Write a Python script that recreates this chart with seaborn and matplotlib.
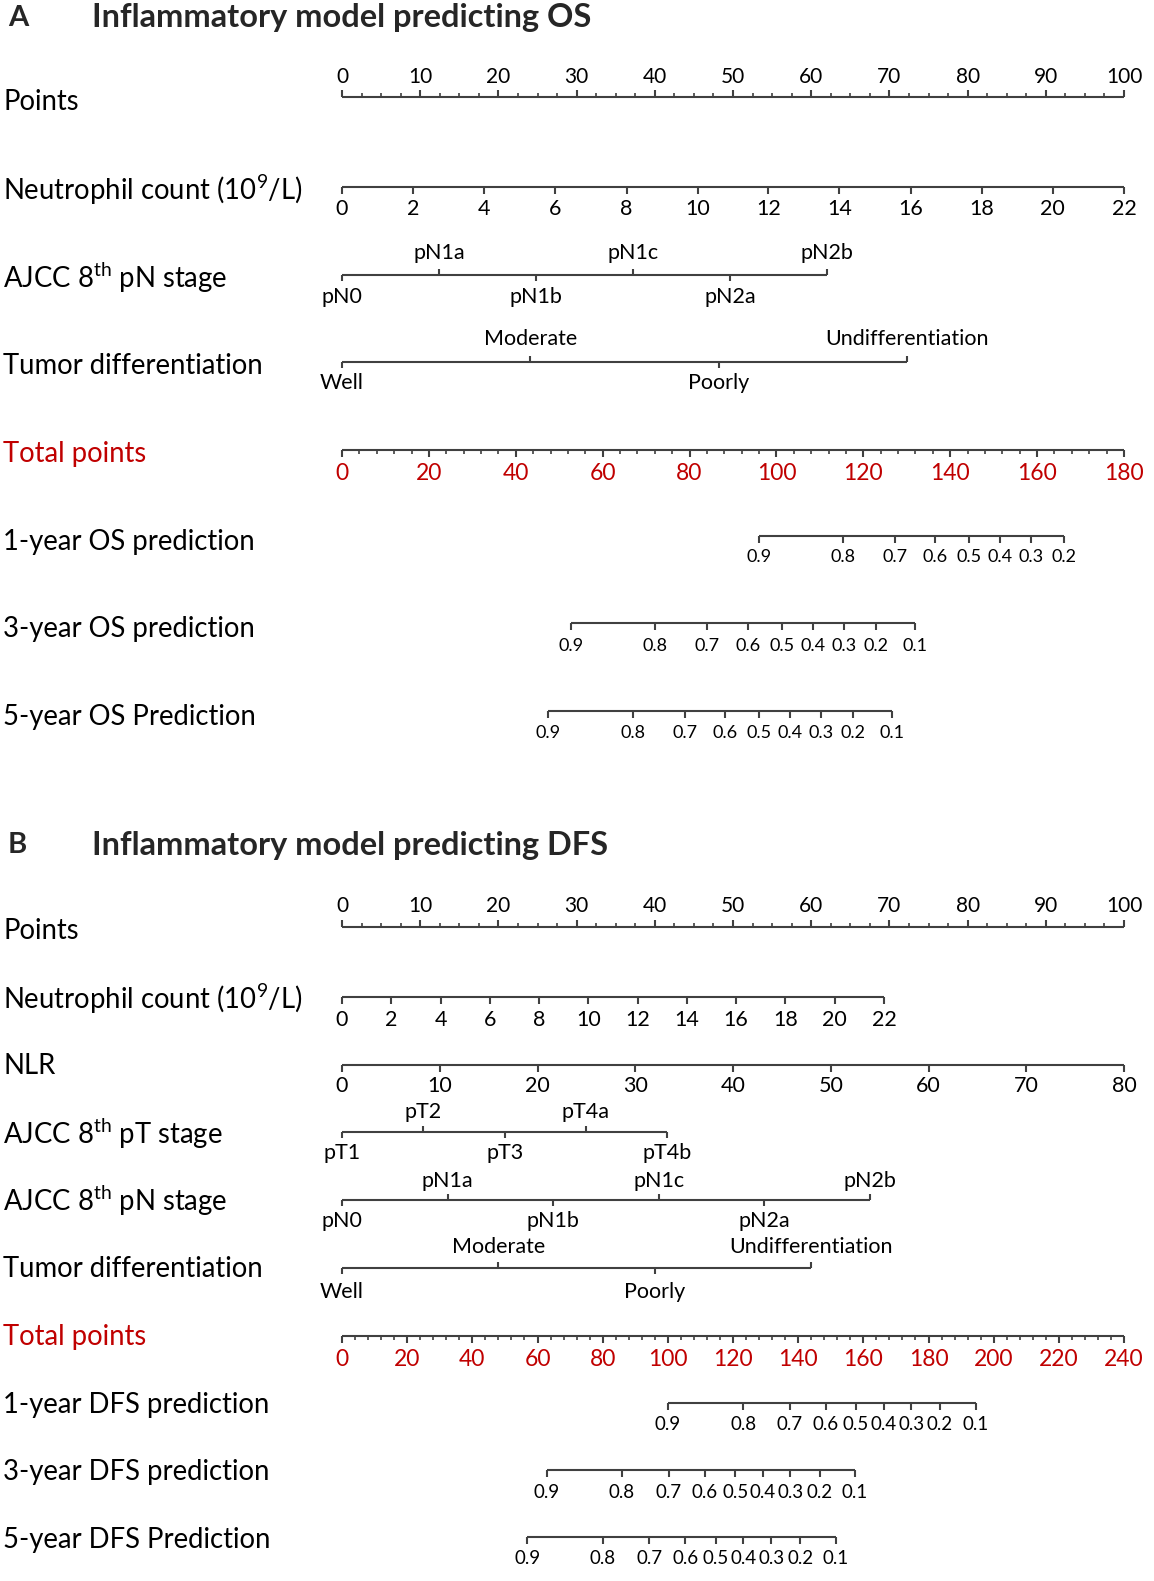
import numpy as np
import matplotlib
matplotlib.use("Agg")
import matplotlib.pyplot as plt
import matplotlib.transforms as mtransforms
import seaborn as sns

# ---------------- data ----------------
# common points scale
points_major = [0, 10, 20, 30, 40, 50, 60, 70, 80, 90, 100]
points_minor = list(np.arange(0, 100.1, 2.5))

# panel A (OS)
os_neut_labels = ["0", "2", "4", "6", "8", "10", "12", "14", "16", "18", "20", "22"]
os_neut_pts = [0, 9.1, 18.2, 27.3, 36.4, 45.5, 54.5, 63.6, 72.7, 81.8, 90.9, 100]
os_pn_labels = ["pN0", "pN1a", "pN1b", "pN1c", "pN2a", "pN2b"]
os_pn_pts = [0, 12.4, 24.8, 37.2, 49.6, 62.0]
os_diff_labels = ["Well", "Moderate", "Poorly", "Undifferentiation"]
os_diff_pts = [0, 24.1, 48.2, 72.3]
os_total_max = 180
os_total_major = [0, 20, 40, 60, 80, 100, 120, 140, 160, 180]
os_total_minor = list(range(0, 181, 4))
os_prob_1y = ["0.9", "0.8", "0.7", "0.6", "0.5", "0.4", "0.3", "0.2"]
os_tp_1y = [96.0, 115.3, 127.3, 136.6, 144.3, 151.5, 158.5, 166.1]
os_prob_3y = ["0.9", "0.8", "0.7", "0.6", "0.5", "0.4", "0.3", "0.2", "0.1"]
os_tp_3y = [52.8, 72.1, 84.0, 93.4, 101.2, 108.4, 115.5, 122.9, 132.0]
os_prob_5y = ["0.9", "0.8", "0.7", "0.6", "0.5", "0.4", "0.3", "0.2", "0.1"]
os_tp_5y = [47.5, 67.0, 78.9, 88.1, 96.0, 103.2, 110.2, 117.6, 126.7]

# panel B (DFS)
dfs_neut_labels = ["0", "2", "4", "6", "8", "10", "12", "14", "16", "18", "20", "22"]
dfs_neut_pts = [0, 6.3, 12.6, 18.9, 25.2, 31.5, 37.8, 44.1, 50.4, 56.7, 63.0, 69.3]
dfs_nlr_labels = ["0", "10", "20", "30", "40", "50", "60", "70", "80"]
dfs_nlr_pts = [0, 12.5, 25, 37.5, 50, 62.5, 75, 87.5, 100]
dfs_pt_labels = ["pT1", "pT2", "pT3", "pT4a", "pT4b"]
dfs_pt_pts = [0, 10.4, 20.8, 31.2, 41.6]
dfs_pn_labels = ["pN0", "pN1a", "pN1b", "pN1c", "pN2a", "pN2b"]
dfs_pn_pts = [0, 13.5, 27.0, 40.5, 54.0, 67.5]
dfs_diff_labels = ["Well", "Moderate", "Poorly", "Undifferentiation"]
dfs_diff_pts = [0, 20.0, 40.0, 60.0]
dfs_total_max = 240
dfs_total_major = [0, 20, 40, 60, 80, 100, 120, 140, 160, 180, 200, 220, 240]
dfs_total_minor = list(range(0, 241, 4))
dfs_prob = ["0.9", "0.8", "0.7", "0.6", "0.5", "0.4", "0.3", "0.2", "0.1"]
dfs_tp_1y = [99.9, 123.1, 137.4, 148.4, 157.6, 166.2, 174.7, 183.5, 194.5]
dfs_tp_3y = [62.9, 85.9, 100.3, 111.4, 120.7, 129.1, 137.6, 146.6, 157.3]
dfs_tp_5y = [56.9, 80.1, 94.3, 105.4, 114.8, 123.2, 131.7, 140.6, 151.5]

# ---------------- style ----------------
sns.set_theme(style="white")
FONT = "Lato"
plt.rcParams["font.family"] = [FONT, "DejaVu Sans"]
plt.rcParams["mathtext.fontset"] = "custom"
plt.rcParams["mathtext.rm"] = FONT
plt.rcParams["mathtext.default"] = "regular"

LINE = "#404040"
RED = "#C00000"
ROW_FS = 19.8
TICK_FS = 15
CAT_FS = 15.5
PROB_A_FS = 13
PROB_B_FS = 13.5

fig = plt.figure(figsize=(11.54, 15.81), dpi=100)
ax = fig.add_axes([0, 0, 1, 1])
# x in "points" units: 0 -> pixel 342, 100 -> pixel 1124
ppx = 7.82
ax.set_xlim(-342 / ppx, (1154 - 342) / ppx)
ax.set_ylim(1581, 0)
ax.axis("off")
lab_tr = mtransforms.blended_transform_factory(ax.transAxes, ax.transData)


def row_label(y, text, color="black"):
    ax.text(3 / 1154, y, text, transform=lab_tr, fontsize=ROW_FS, color=color,
            ha="left", va="center")


def scale(y, pts, labels, label_y, up, fs=TICK_FS, color="black",
          minor=None, tlen=7, mlen=4):
    n = len(pts)
    if np.isscalar(label_y):
        label_y = [label_y] * n
    if np.isscalar(up):
        up = [up] * n
    ax.hlines(y, min(pts), max(pts), color=LINE, lw=1.5)
    if minor is not None:
        d = -1 if up[0] else 1
        ax.vlines(minor, y, y + d * mlen, color=LINE, lw=1.2)
    for p, lab, ly, u in zip(pts, labels, label_y, up):
        d = -1 if u else 1
        ax.vlines(p, y, y + d * tlen, color=LINE, lw=1.5)
        ax.text(p, ly, lab, fontsize=fs, color=color, ha="center", va="center")


def total_to_pts(tp, tmax):
    return [v * 100 / tmax for v in tp]


def title(y, letter, text):
    ax.text(8 / 1154, y, letter, transform=lab_tr, fontsize=21, fontweight="bold",
            ha="left", va="center")
    ax.text(92 / 1154, y, text, transform=lab_tr, fontsize=23.4, fontweight="bold",
            ha="left", va="center")


# ---------------- panel A ----------------
title(18, "A", "Inflammatory model predicting OS")
row_label(102, "Points")
scale(97, points_major, [str(v) for v in points_major], 77, True, minor=points_minor)
row_label(190, "Neutrophil count (10$^{9}$/L)")
scale(187, os_neut_pts, os_neut_labels, 209, False, fs=15.5)
row_label(278, "AJCC 8$^{th}$ pN stage")
scale(275, os_pn_pts, os_pn_labels, [297, 253, 297, 253, 297, 253],
      [False, True, False, True, False, True], fs=CAT_FS, tlen=6)
row_label(366, "Tumor differentiation")
scale(362, os_diff_pts, os_diff_labels, [383, 339, 383, 339],
      [False, True, False, True], fs=CAT_FS, tlen=6)
row_label(454, "Total points", RED)
scale(450, total_to_pts(os_total_major, os_total_max), [str(v) for v in os_total_major],
      474, False, color=RED, fs=16.5, minor=total_to_pts(os_total_minor, os_total_max))
row_label(542, "1-year OS prediction")
scale(536, total_to_pts(os_tp_1y, os_total_max), os_prob_1y, 557, False, fs=PROB_A_FS)
row_label(629, "3-year OS prediction")
scale(623, total_to_pts(os_tp_3y, os_total_max), os_prob_3y, 646, False, fs=PROB_A_FS)
row_label(717, "5-year OS Prediction")
scale(711, total_to_pts(os_tp_5y, os_total_max), os_prob_5y, 733, False, fs=PROB_A_FS)

# ---------------- panel B ----------------
title(845, "B", "Inflammatory model predicting DFS")
row_label(931, "Points")
scale(927, points_major, [str(v) for v in points_major], 906, True, minor=points_minor)
row_label(999, "Neutrophil count (10$^{9}$/L)")
scale(997, dfs_neut_pts, dfs_neut_labels, 1020, False, fs=15.5)
row_label(1066, "NLR")
scale(1065, dfs_nlr_pts, dfs_nlr_labels, 1086, False, fs=15.5)
row_label(1134, "AJCC 8$^{th}$ pT stage")
scale(1132, dfs_pt_pts, dfs_pt_labels, [1153, 1112, 1153, 1112, 1153],
      [False, True, False, True, False], fs=CAT_FS, tlen=6)
row_label(1201, "AJCC 8$^{th}$ pN stage")
scale(1200, dfs_pn_pts, dfs_pn_labels, [1221, 1181, 1221, 1181, 1221, 1181],
      [False, True, False, True, False, True], fs=CAT_FS, tlen=6)
row_label(1269, "Tumor differentiation")
scale(1268, dfs_diff_pts, dfs_diff_labels, [1292, 1247, 1292, 1247],
      [False, True, False, True], fs=CAT_FS, tlen=6)
row_label(1337, "Total points", RED)
scale(1336, total_to_pts(dfs_total_major, dfs_total_max), [str(v) for v in dfs_total_major],
      1360, False, color=RED, fs=16.5, minor=total_to_pts(dfs_total_minor, dfs_total_max))
row_label(1405, "1-year DFS prediction")
scale(1403, total_to_pts(dfs_tp_1y, dfs_total_max), dfs_prob, 1424, False, fs=PROB_B_FS)
row_label(1472, "3-year DFS prediction")
scale(1470, total_to_pts(dfs_tp_3y, dfs_total_max), dfs_prob, 1492, False, fs=PROB_B_FS)
row_label(1540, "5-year DFS Prediction")
scale(1537, total_to_pts(dfs_tp_5y, dfs_total_max), dfs_prob, 1559, False, fs=PROB_B_FS)

fig.savefig("out.png", dpi=100, facecolor="white")
